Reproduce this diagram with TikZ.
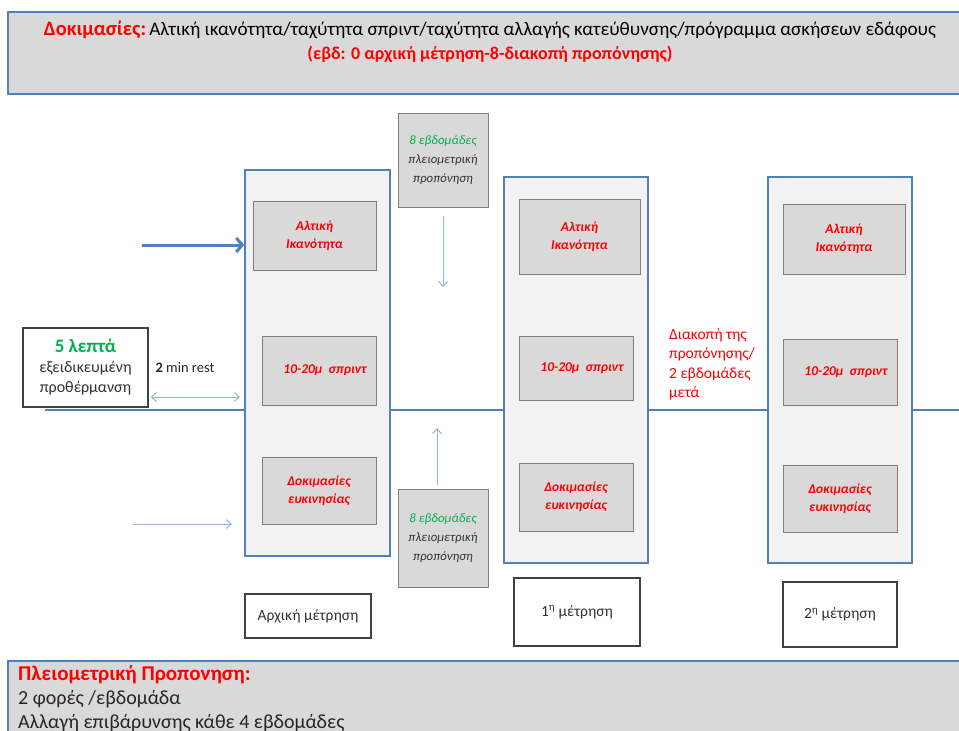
\documentclass[tikz,border=0pt]{standalone}
\usepackage{fontspec}
\setmainfont{Carlito}
\usetikzlibrary{arrows.meta,positioning}
\definecolor{frameblue}{HTML}{4F81BD}
\definecolor{arrowblue}{HTML}{95B3D7}
\definecolor{panelgray}{HTML}{D9D9D9}
\definecolor{colgray}{HTML}{F2F2F2}
\definecolor{edgegray}{HTML}{7F7F7F}
\definecolor{textgreen}{HTML}{00B050}
\tikzset{%
	banner/.style   = {draw=frameblue, fill=panelgray, line width=1.5pt}, % header and footer
	column/.style   = {draw=frameblue, fill=colgray, line width=1.5pt, minimum width=145pt, minimum height=386pt},
	testbox/.style  = {draw=edgegray, fill=panelgray, line width=1pt, text=red, align=center, inner sep=0pt,
	                   font=\bfseries\itshape\fontsize{13.5}{18}\selectfont},
	weekbox/.style  = {draw=edgegray, fill=panelgray, line width=1pt, align=center, inner sep=0pt,
	                   font=\itshape\fontsize{12.8}{19}\selectfont, text=black!80},
	labelbox/.style = {draw=black!75, fill=white, line width=1.5pt, align=center, inner sep=0pt,
	                   font=\fontsize{15.5}{18}\selectfont, text=black!80},
	thin/.style     = {draw=arrowblue, line width=1pt, -{Straight Barb[length=5pt,width=9pt]}},
}
\begin{document}
\begin{tikzpicture}[x=1pt,y=-1pt]
	\useasboundingbox (0,0) rectangle (959,731);
	\clip (0,0) rectangle (959,731);
	% header
	\draw[banner] (8,12) rectangle (975,94);
	\node (title) at (490,30) {\fontsize{19.2}{22}\selectfont\textcolor{red}{\bfseries\fontsize{20.5}{22}\selectfont Δοκιμασίες:}\,Αλτική ικανότητα/ταχύτητα σπριντ/ταχύτητα αλλαγής κατεύθυνσης/πρόγραμμα ασκήσεων εδάφους};
	\node [text=red, font=\bfseries\fontsize{18}{20}\selectfont] (weeks) at (490,54) {(εβδ: 0 αρχική μέτρηση-8-διακοπή προπόνησης)};
	% time line
	\coordinate (start) at (45,410);
	\coordinate (end) at (965,410);
	\draw[frameblue, line width=2pt] (start) -- (end);
	% columns
	\node [column] (col0) at (317.5,363) {};
	\node [column, minimum width=144pt] (col1) at (576,370) {};
	\node [column, minimum width=144pt] (col2) at (840,370) {};
	% tests
	\node [testbox, minimum width=123pt, minimum height=69pt] (jump0) at (314.5,235.5) {Αλτική\\Ικανότητα};
	\node [testbox, minimum width=114pt, minimum height=69pt] (sprint0) at (319,370.5) {\hspace*{12pt}10-20μ\ \ σπριντ};
	\node [testbox, minimum width=114pt, minimum height=67pt] (agil0) at (319,490.5) {Δοκιμασίες\\ευκινησίας};
	\node [testbox, minimum width=121pt, minimum height=75pt] (jump1) at (579.5,236.5) {Αλτική\\Ικανότητα};
	\node [testbox, minimum width=114pt, minimum height=64pt] (sprint1) at (576,368) {\hspace*{12pt}10-20μ\ \ σπριντ};
	\node [testbox, minimum width=114pt, minimum height=68pt] (agil1) at (576,497) {Δοκιμασίες\\ευκινησίας};
	\node [testbox, minimum width=122pt, minimum height=70pt] (jump2) at (844,239) {Αλτική\\Ικανότητα};
	\node [testbox, minimum width=114pt, minimum height=66pt] (sprint2) at (840,372) {\hspace*{12pt}10-20μ\ \ σπριντ};
	\node [testbox, minimum width=114pt, minimum height=67pt] (agil2) at (840,498.5) {Δοκιμασίες\\ευκινησίας};
	% measurement labels
	\node [labelbox, minimum width=126pt, minimum height=44pt] (meas0) at (308,616) {Αρχική μέτρηση};
	\node [labelbox, minimum width=126pt, minimum height=68pt] (meas1) at (577,612) {1\textsuperscript{η} μέτρηση};
	\node [labelbox, minimum width=114pt, minimum height=65pt] (meas2) at (840,614.5) {2\textsuperscript{η} μέτρηση};
	% warm-up
	\node [labelbox, minimum width=125pt, minimum height=79pt, font=\fontsize{16}{20}\selectfont] (warm) at (85.5,367.5)
		{\textcolor{textgreen}{\bfseries\fontsize{19}{20}\selectfont 5 λεπτά}\\εξειδικευμένη\\προθέρμανση};
	\node [font=\fontsize{14.5}{16}\selectfont, text=black!85] (rest) at (185,368) {\textbf{2} min rest};
	\coordinate (restend) at (240,397);
	\draw[draw=arrowblue, line width=1pt, {Straight Barb[length=5pt,width=9pt]}-{Straight Barb[length=5pt,width=9pt]}]
		(warm.south east |- restend) ++(2,0) -- (restend);
	\coordinate (bigtail) at (142,245);
	\draw[frameblue, line width=3pt, -{Straight Barb[length=6pt,width=14pt]}] (bigtail) -- (col0.west |- bigtail);
	\coordinate (lowtail) at (133,524);
	\coordinate (lowhead) at (232,524);
	\draw[thin] (lowtail) -- (lowhead);
	% training blocks
	\node [weekbox, minimum width=90pt, minimum height=94pt] (plyo0) at (443,160) {\textcolor{textgreen}{8 εβδομάδες}\\πλειομετρική\\προπόνηση};
	\node [weekbox, minimum width=90pt, minimum height=98pt] (plyo1) at (443,538) {\textcolor{textgreen}{8 εβδομάδες}\\πλειομετρική\\προπόνηση};
	\coordinate (down) at (443,287);
	\coordinate (up) at (437,428);
	\draw[thin] (plyo0.south) ++(0,8) -- (down);
	\draw[thin] (plyo1.north -| up) ++(0,-4) -- (up);
	% detraining
	\node [anchor=north west, align=left, text=red, font=\fontsize{15.5}{19.5}\selectfont, inner sep=0pt] (stop) at (669,328)
		{Διακοπή της\\προπόνησης/\\2 εβδομάδες\\μετά};
	% footer
	\draw[banner] (8,661) rectangle (975,740);
	\node [anchor=north west, align=left, inner sep=0pt, font=\fontsize{20}{24}\selectfont, text=black!85] (plan) at (18,665)
		{\textcolor{red}{\bfseries\fontsize{21}{24}\selectfont Πλειομετρική Προπονηση:}\\2 φορές /εβδομάδα\\Αλλαγή επιβάρυνσης κάθε 4 εβδομάδες};
\end{tikzpicture}
\end{document}
